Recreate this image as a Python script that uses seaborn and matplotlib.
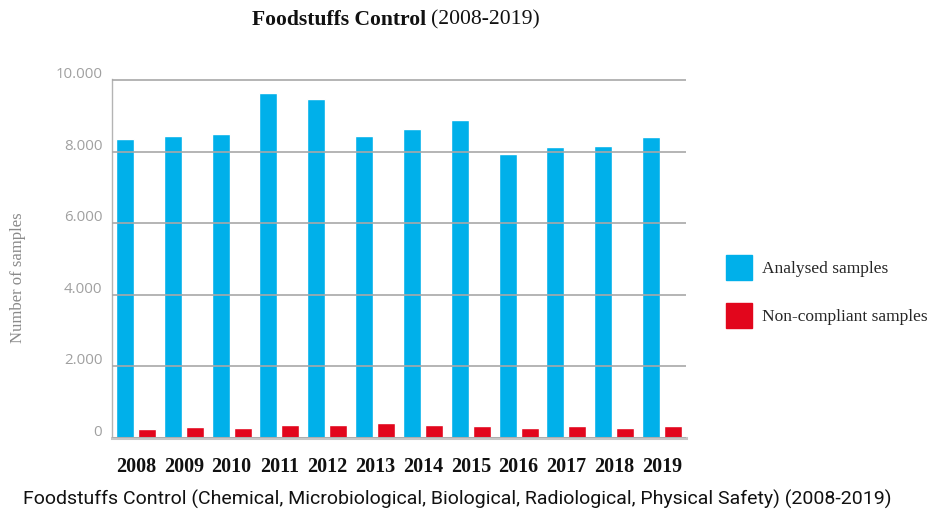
import matplotlib
matplotlib.use("Agg")
import matplotlib.pyplot as plt
import matplotlib.transforms as mtransforms
from matplotlib.ticker import FuncFormatter, MultipleLocator
import pandas as pd
import seaborn as sns

years = ["2008", "2009", "2010", "2011", "2012", "2013",
         "2014", "2015", "2016", "2017", "2018", "2019"]
analysed = [8370, 8455, 8510, 9660, 9490, 8455, 8650, 8880, 7950, 8145, 8175, 8425]
non_compliant = [240, 295, 268, 352, 352, 408, 352, 324, 268, 324, 268, 324]
series_names = ["Analysed samples", "Non-compliant samples"]
series_colors = ["#00b0ea", "#e2061c"]

df = pd.DataFrame({
    "year": years * 2,
    "value": analysed + non_compliant,
    "series": [series_names[0]] * len(years) + [series_names[1]] * len(years),
})

sns.set_style("white")
serif = ["Liberation Serif", "DejaVu Serif"]

fig = plt.figure(figsize=(9.34, 5.13), dpi=100)
ax = fig.add_axes([112 / 934, 1 - 437.7 / 513, 574 / 934, 358.4 / 513])

sns.barplot(data=df, x="year", y="value", hue="series", palette=series_colors,
            width=0.92, gap=0.18, saturation=1, legend=False, ax=ax)

ax.set_xlim(-0.5, 11.5)
ax.set_ylim(0, 10030)
ax.yaxis.set_major_locator(MultipleLocator(2000))
ax.yaxis.set_major_formatter(FuncFormatter(lambda v, p: f"{int(v):,}".replace(",", ".")))

# gridlines drawn above the bars like the original
ax.set_axisbelow(False)
ax.grid(axis="y", color="#a8a8a8", linewidth=1.2)
ax.grid(axis="x", visible=False)

for s in ["top", "right"]:
    ax.spines[s].set_visible(False)
ax.spines["left"].set_color("#b4b4b4")
ax.spines["left"].set_linewidth(1.0)
ax.spines["bottom"].set_color("#c6c6c6")
ax.spines["bottom"].set_linewidth(2.2)

# small separators between year groups
ax.set_xticks([i - 0.5 for i in range(len(years) + 1)], minor=True)
ax.tick_params(axis="x", which="minor", direction="in", length=8, width=1.6, color="#bdbdbd")
ax.tick_params(axis="x", which="major", length=0, pad=14)
ax.tick_params(axis="y", length=0, pad=7)

for lab in ax.get_xticklabels():
    lab.set_fontfamily(serif)
    lab.set_fontweight("bold")
    lab.set_fontsize(14.5)
    lab.set_color("#111111")

shift = mtransforms.ScaledTranslation(0, 5.5 / 72, fig.dpi_scale_trans)
for lab in ax.get_yticklabels():
    lab.set_fontfamily(["Open Sans", "DejaVu Sans"])
    lab.set_fontsize(10.8)
    lab.set_color("#a0a0a0")
    lab.set_transform(lab.get_transform() + shift)

ax.set_xlabel("")
ax.set_ylabel("Number of samples", fontsize=12, color="#8a8a8a", family=serif)
ax.yaxis.set_label_coords(-0.150, 0.446)

# legend
handles = [plt.Rectangle((0, 0), 1, 1, color=c) for c in series_colors]
fig.legend(handles, series_names, loc="upper left", bbox_to_anchor=(726 / 934, 1 - 255 / 513),
           frameon=False, borderpad=0, borderaxespad=0, handlelength=1.5, handleheight=1.85,
           handletextpad=0.6, labelspacing=1.3, prop={"family": serif, "size": 12.5})

# title with bold part and regular part
fig.text(426 / 934, 1 - 20 / 513, "Foodstuffs Control", ha="right", va="center",
         family=serif, fontweight="bold", fontsize=15.6, color="#111111")
fig.text(431 / 934, 1 - 20 / 513, "(2008-2019)", ha="left", va="center",
         family=serif, fontsize=15.6, color="#111111")

fig.text(457 / 934, 1 - 499 / 513,
         "Foodstuffs Control (Chemical, Microbiological, Biological, Radiological, Physical Safety) (2008-2019)",
         ha="center", va="center", fontsize=14, color="#111111",
         family=["Roboto", "Liberation Sans", "DejaVu Sans"])

fig.savefig("out.png", dpi=100)
